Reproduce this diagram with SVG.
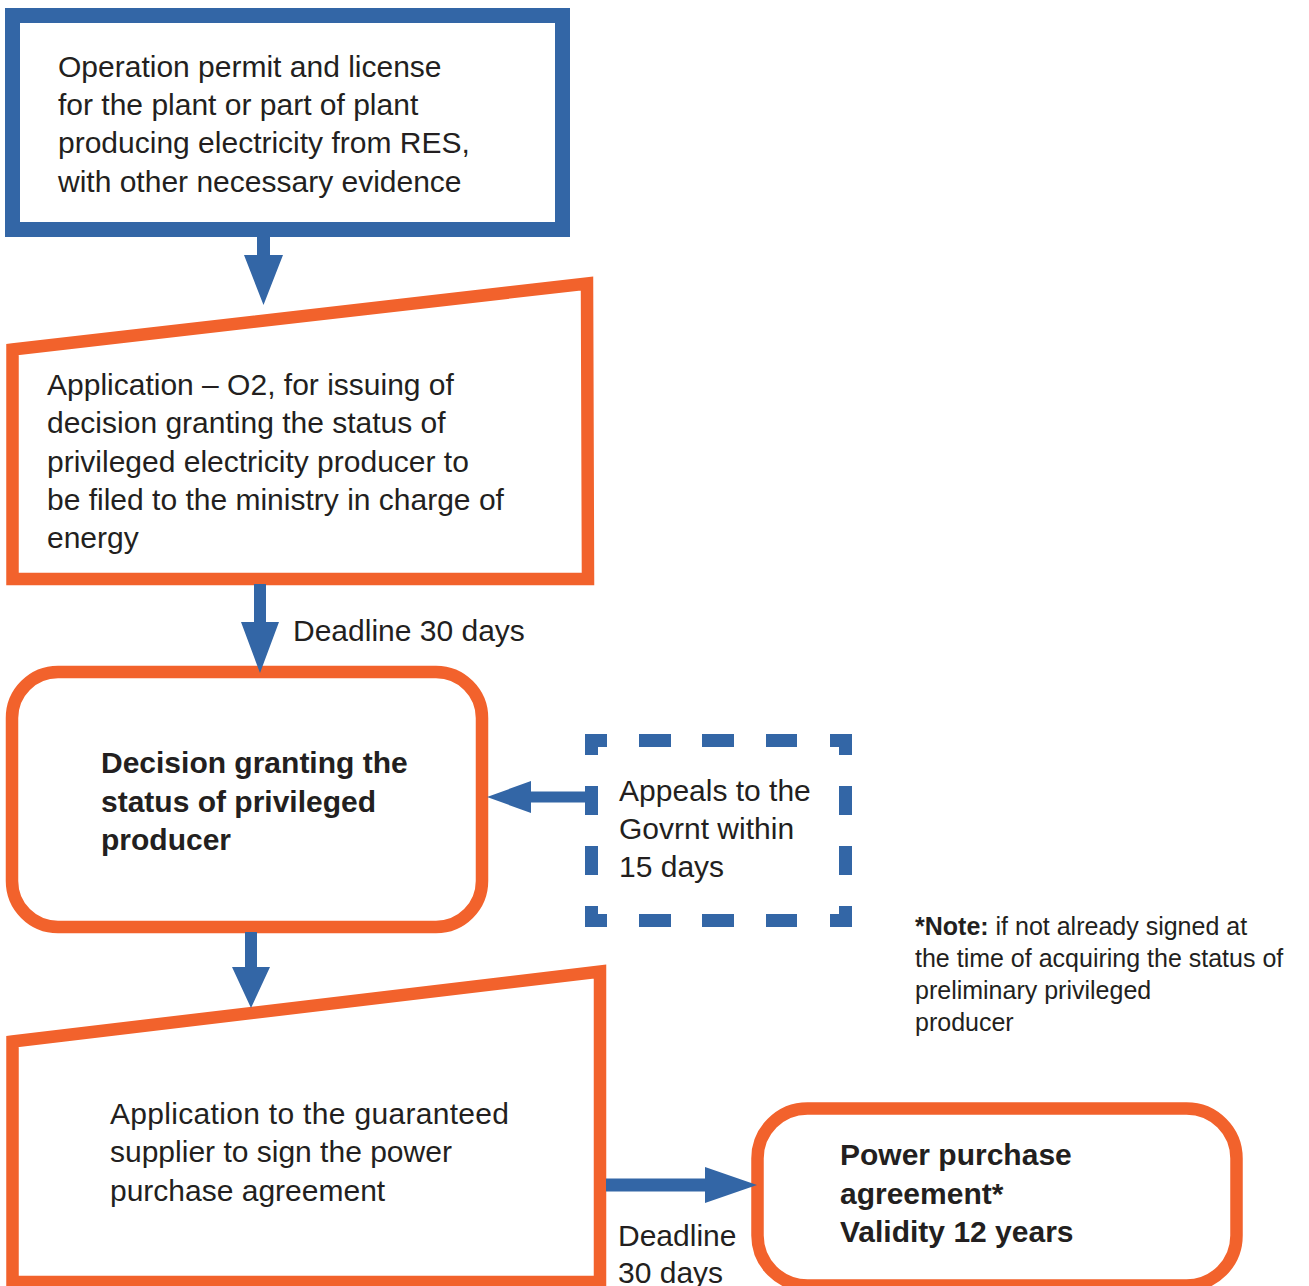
<svg xmlns="http://www.w3.org/2000/svg" width="1309" height="1286" viewBox="0 0 1309 1286">
<style>
  .bg { fill: #ffffff; }
  .blue { fill: none; stroke: #3366a6; stroke-width: 15; stroke-linejoin: miter; }
  .orange { fill: #ffffff; stroke: #f2622c; stroke-width: 12.5; stroke-linejoin: miter; }
  .dash { fill: none; stroke: #3366a6; stroke-width: 13; stroke-linecap: butt; stroke-linejoin: miter; }
  .conn { fill: #3366a6; stroke: none; }
  .t { font-family: "Liberation Sans", Arial, sans-serif; font-size: 30px; fill: #231f20; }
  .b { font-weight: bold; }
  .note { font-family: "Liberation Sans", Arial, sans-serif; font-size: 25px; fill: #231f20; }
</style>
<rect class="bg" x="0" y="0" width="1309" height="1286"/>

<g id="node-permit">
  <rect class="blue" x="12.5" y="15.5" width="550" height="214" fill="#ffffff"/>
  <text class="t" x="58" y="77">Operation permit and license</text>
  <text class="t" x="58" y="115">for the plant or part of plant</text>
  <text class="t" x="58" y="153">producing electricity from RES,</text>
  <text class="t" x="58" y="192">with other necessary evidence</text>
</g>

<g id="node-application-o2">
  <polygon class="orange" points="12.5,349.5 587,283.5 588,579 12.5,579"/>
  <text class="t" x="47" y="395">Application – O2, for issuing of</text>
  <text class="t" x="47" y="433">decision granting the status of</text>
  <text class="t" x="47" y="472">privileged electricity producer to</text>
  <text class="t" x="47" y="510">be filed to the ministry in charge of</text>
  <text class="t" x="47" y="548">energy</text>
</g>

<g id="node-decision">
  <rect class="orange" x="12" y="672" width="470" height="255" rx="46" ry="46"/>
  <text class="t b" x="101" y="773">Decision granting the</text>
  <text class="t b" x="101" y="812">status of privileged</text>
  <text class="t b" x="101" y="850">producer</text>
</g>

<g id="node-appeals">
  <path class="dash" d="M591.5,755 V740.5 H607 M830,740.5 H845.5 V755 M845.5,906 V920.5 H830 M607,920.5 H591.5 V906"/>
  <path class="dash" d="M639,740.5 H671 M702,740.5 H734 M766,740.5 H797 M639,920.5 H671 M702,920.5 H734 M766,920.5 H797 M591.5,786 V815 M591.5,846 V875 M845.5,786 V815 M845.5,846 V875"/>
  <text class="t" x="619" y="801">Appeals to the</text>
  <text class="t" x="619" y="839">Govrnt within</text>
  <text class="t" x="619" y="877">15 days</text>
</g>

<g id="node-application-supplier">
  <polygon class="orange" points="12.5,1041.5 600,971.5 600,1282 12.5,1282"/>
  <text class="t" x="110" y="1124" textLength="399" lengthAdjust="spacing">Application to the guaranteed</text>
  <text class="t" x="110" y="1162">supplier to sign the power</text>
  <text class="t" x="110" y="1201">purchase agreement</text>
</g>

<g id="node-ppa">
  <rect class="orange" x="757.5" y="1108.5" width="479" height="177" rx="50" ry="50"/>
  <text class="t b" x="840" y="1165">Power purchase</text>
  <text class="t b" x="840" y="1204">agreement*</text>
  <text class="t b" x="840" y="1242">Validity 12 years</text>
</g>

<g id="note">
  <text class="note" x="915" y="935"><tspan font-weight="bold">*Note:</tspan> if not already signed at</text>
  <text class="note" x="915" y="967">the time of acquiring the status of</text>
  <text class="note" x="915" y="999">preliminary privileged</text>
  <text class="note" x="915" y="1031">producer</text>
</g>

<g id="connectors">
  <path class="conn" d="M257,236 H270 V255 H283 L263.5,305 L244,255 H257 Z"/>
  <path class="conn" d="M254,584 H266 V622 H279 L260,673 L241,622 H254 Z"/>
  <path class="conn" d="M245,932 H257 V967 H270 L251,1008 L232,967 H245 Z"/>
  <path class="conn" d="M598,791.5 V802.5 H531 V813 L487,797 L531,781 V791.5 Z"/>
  <path class="conn" d="M606,1178.5 H705 V1167 L757,1185 L705,1203 V1191.5 H606 Z"/>
  <text class="t" x="293" y="641">Deadline 30 days</text>
  <text class="t" x="618" y="1246">Deadline</text>
  <text class="t" x="618" y="1283">30 days</text>
</g>
</svg>
